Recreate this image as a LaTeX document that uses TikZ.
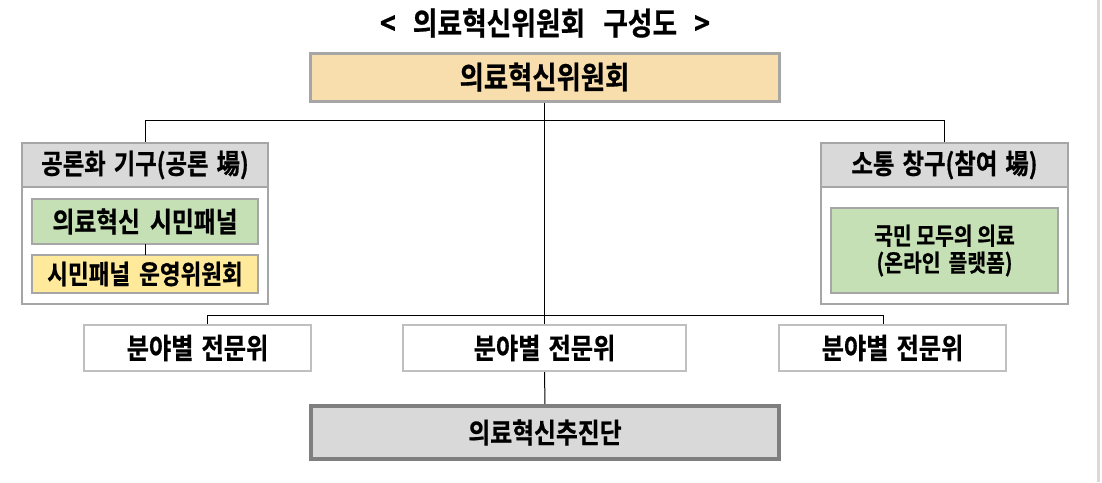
\documentclass[tikz,border=0pt]{standalone}
\usepackage{fontspec}
\newfontfamily\kr{Noto Sans CJK KR Bold}[FakeStretch=0.85, FakeBold=0.6]
\definecolor{wheatfill}{HTML}{F7DEAC}
\definecolor{greenfill}{HTML}{C5E0B4}
\definecolor{yellowfill}{HTML}{FFE99B}
\definecolor{headfill}{HTML}{D9D9D9}
\definecolor{bordA}{HTML}{A6A6A6}
\definecolor{bordB}{HTML}{BFBFBF}
\definecolor{bordC}{HTML}{7F7F7F}
\tikzset{
  box/.style={rectangle, inner sep=0pt, outer sep=0pt, align=center},
  topbox/.style={box, draw=bordA, line width=3pt, fill=wheatfill, font=\kr\fontsize{31}{34}\selectfont},
  grpbox/.style={box, draw=bordA, line width=2pt, fill=white},
  headbox/.style={box, draw=bordA, line width=2pt, fill=headfill, font=\kr\fontsize{27.5}{30}\selectfont},
  greenbox/.style={box, draw=bordA, line width=2pt, fill=greenfill, font=\kr\fontsize{28}{30}\selectfont},
  yellowbox/.style={box, draw=bordA, line width=2pt, fill=yellowfill, font=\kr\fontsize{26.5}{30}\selectfont},
  subbox/.style={box, draw=bordB, line width=2.5pt, fill=white, font=\kr\fontsize{28.5}{30}\selectfont},
  bottombox/.style={box, draw=bordC, line width=3.5pt, fill=headfill, font=\kr\fontsize{28}{30}\selectfont},
  conn/.style={draw=black, line width=1pt},
}
\begin{document}
\begin{tikzpicture}[x=1pt, y=-1pt]
\useasboundingbox (0,0) rectangle (1102,482);
\fill[white] (0,0) rectangle (1102,482);
\fill[headfill] (1097,0) rectangle (1100,482);
% title
\node[box, font=\kr\fontsize{31.5}{34}\selectfont] (title) at (545,23) {<\hspace{17pt}의료혁신위원회\hspace{18pt}구성도\hspace{17pt}>};
% coordinates for buses
\coordinate (bus1) at (545,120);
\coordinate (drop1) at (207,315);
\coordinate (drop3) at (883,315);
\node[topbox, minimum width=469, minimum height=48] (top) at (544.5,77) {};
\node[grpbox, minimum width=246, minimum height=161] (lgrp) at (145,223.5) {};
\node[grpbox, minimum width=247, minimum height=161] (rgrp) at (944.5,223.5) {};
\node[subbox, minimum width=227, minimum height=46] (b1) at (197.5,348) {};
\node[subbox, minimum width=283, minimum height=46] (b2) at (544.5,348) {};
\node[subbox, minimum width=227, minimum height=46] (b3) at (892.5,348) {};
\node[bottombox, minimum width=468, minimum height=53] (pb) at (545,432.5) {};
% connectors (under boxes)
\draw[conn] (top.south) -- (b2.north);
\draw[conn] (lgrp.north) -- (lgrp.north |- bus1) -- (rgrp.north |- bus1) -- (rgrp.north);
\draw[conn] (drop1 |- b1.north) -- (drop1) -- (drop3) -- (drop3 |- b3.north);
\draw[conn] (b2.south) -- (pb.north);
% boxes with text drawn over lines
\node[topbox, minimum width=469, minimum height=48] at (544.5,77) {의료혁신위원회};
\node[subbox, minimum width=227, minimum height=46] at (197.5,348) {분야별\hspace{8pt}전문위};
\node[subbox, minimum width=283, minimum height=46] at (544.5,348) {분야별\hspace{8pt}전문위};
\node[subbox, minimum width=227, minimum height=46] at (892.5,348) {분야별\hspace{8pt}전문위};
\node[bottombox, minimum width=468, minimum height=53] at (545,432.5) {의료혁신추진단};
% left group
\node[headbox, minimum width=246, minimum height=44] (lhead) at (145,165) {공론화\hspace{8pt}기구(공론\hspace{8pt}場)};
\node[greenbox, minimum width=226, minimum height=45] (lg) at (145,221.5) {의료혁신\hspace{10pt}시민패널};
\node[yellowbox, minimum width=226, minimum height=38] (ly) at (145,274) {시민패널\hspace{9pt}운영위원회};
\draw[conn] (lg.south) -- (ly.north);
% right group
\node[headbox, minimum width=247, minimum height=44] (rhead) at (944.5,165) {소통\hspace{8pt}창구(참여\hspace{8pt}場)};
\node[greenbox, minimum width=227, minimum height=85, font=\kr\fontsize{24}{27}\selectfont] (rg) at (944.5,250.5) {국민 모두의 의료\\(온라인\hspace{8pt}플랫폼)};
\end{tikzpicture}
\end{document}
